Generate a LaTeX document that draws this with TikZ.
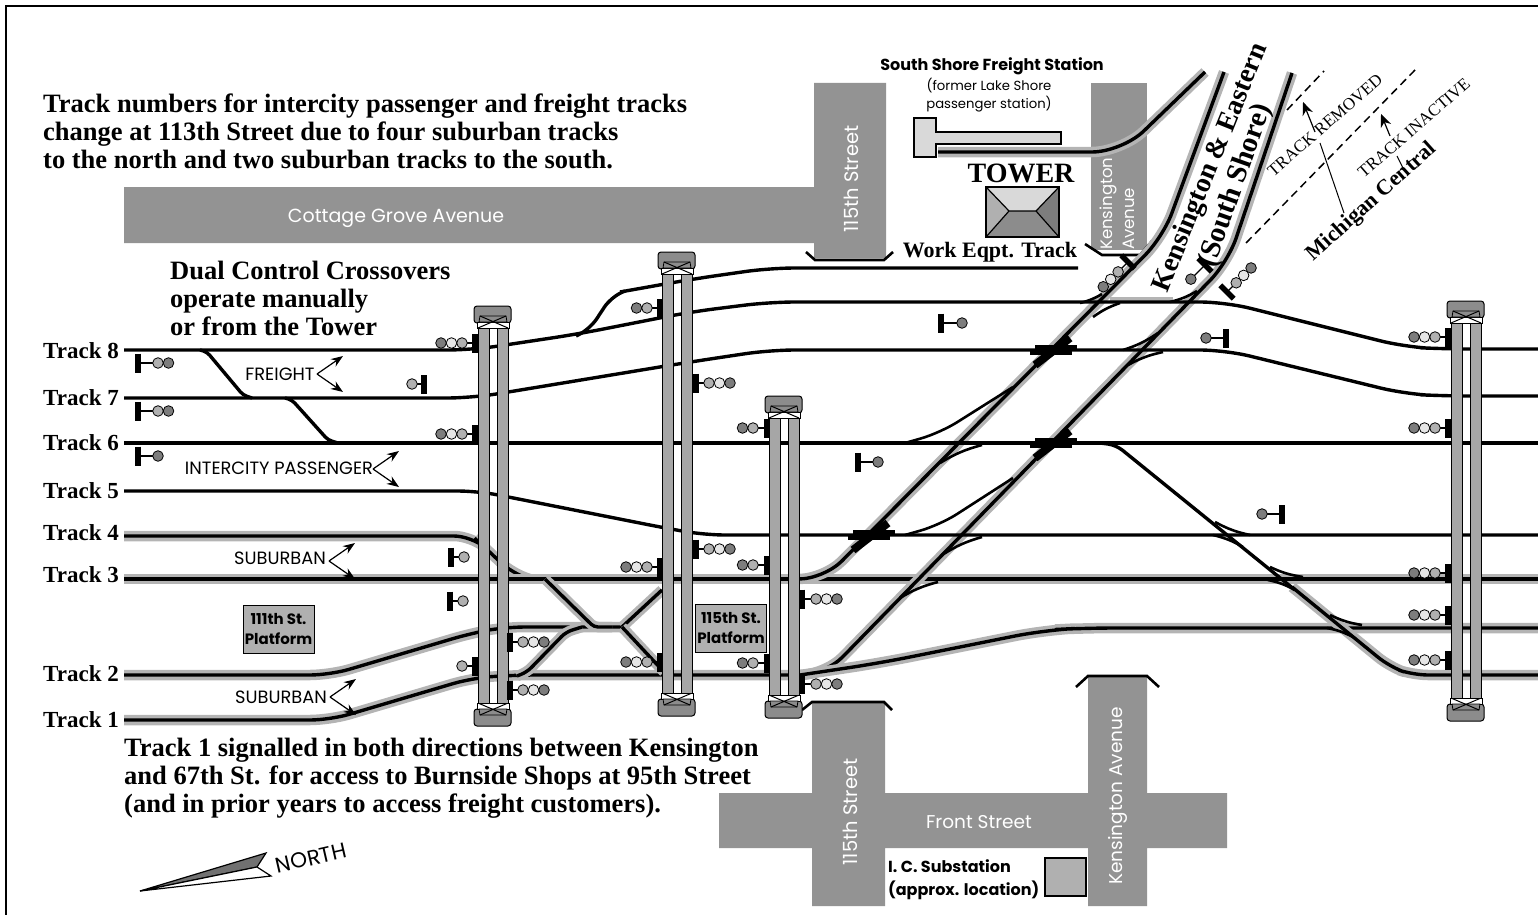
\documentclass[tikz,border=0pt]{standalone}
\usepackage{fontspec}
\setmainfont{Liberation Serif}
\setsansfont{Poppins}
\usepackage{xcolor}
\usepackage{tikz}
\usetikzlibrary{arrows.meta}
\definecolor{roadcol}{HTML}{939393}
\definecolor{halocol}{HTML}{B4B4B4}
\definecolor{stripcol}{HTML}{A6A6A6}
\definecolor{capcol}{HTML}{8C8C8C}
\definecolor{darkl}{HTML}{7D7D7D}
\definecolor{midl}{HTML}{B0B0B0}
\definecolor{whitel}{HTML}{E6E6E6}
\definecolor{paleroof}{HTML}{D9D9D9}
\newcommand{\halotrack}[2][18]{%
  \draw[halo,rounded corners=#1] #2;
  \draw[track,rounded corners=#1] #2;}
\newcommand{\signal}[5]{%
  \begin{scope}[shift={(#1,#2)},rotate=#3]
    \draw[line width=1.3] (0,0) -- (#4,0);
    \draw[line width=5.5] (0,-9.5) -- (0,9.5);
    \foreach \c [count=\i] in #5
      \draw[line width=0.8,fill=\c] ({#4+10.5*(\i-1)},0) circle (5.3);
  \end{scope}}
\newcommand{\platform}[3]{%
  \draw[line width=1,fill=capcol,rounded corners=3] (#1-4,#2-22) rectangle (#1+33,#2-5);
  \draw[line width=1,fill=capcol,rounded corners=3] (#1-4,#3+6) rectangle (#1+33,#3+23);
  \draw[line width=0.8,fill=white] (#1-1,#2-6) rectangle (#1+31,#2);
  \draw[line width=0.8,fill=white] (#1-1,#3) rectangle (#1+31,#3+6);
  \draw[line width=0.8,fill=capcol] (#1+2,#2-12) -- (#1+28,#2-12) -- (#1+29,#2-6) -- (#1+1,#2-6) -- cycle;
  \draw[line width=0.8,fill=capcol] (#1+2,#3+12) -- (#1+28,#3+12) -- (#1+29,#3+6) -- (#1+1,#3+6) -- cycle;
  \draw[line width=1] (#1+2,#2-12) -- (#1+30,#2) (#1+28,#2-12) -- (#1,#2);
  \draw[line width=1] (#1+2,#3+12) -- (#1+30,#3) (#1+28,#3+12) -- (#1,#3);
  \draw[line width=1,fill=stripcol] (#1,#2) rectangle (#1+11,#3);
  \draw[line width=1,fill=stripcol] (#1+19,#2) rectangle (#1+30,#3);}

\begin{document}
\begin{tikzpicture}[x=1pt,y=-1pt,
  halo/.style={draw=halocol,line width=10.5},
  track/.style={draw=black,line width=3.4},
  thin track/.style={draw=black,line width=2.6},
  road/.style={fill=roadcol,draw=none},
  roadend/.style={draw=black,line width=2.6},
  roadtext/.style={text=white,font=\sffamily\fontsize{18.5}{20}\selectfont,inner sep=0},
  tracktext/.style={font=\bfseries\fontsize{23}{26}\selectfont,anchor=west,inner sep=0},
  notetext/.style={font=\bfseries\fontsize{26.5}{28}\selectfont,anchor=west,align=left,inner sep=0},
  kindtext/.style={font=\sffamily\fontsize{17.8}{19}\selectfont,inner sep=0},
  sign/.style={draw=black,line width=1,fill=midl,font=\sffamily\bfseries\fontsize{15}{20}\selectfont,
    align=center,inner sep=0,minimum width=71,minimum height=48},
  kindarrow/.style={-{Stealth[length=12pt,width=9pt]},line width=1.2},
]
\useasboundingbox (0,0) rectangle (1538,915);
\draw[line width=1.6] (1538,6) -- (6,6) -- (6,915);

\fill[road] (124,187) -- (814,187) -- (814,83) -- (886,83) -- (886,258) -- (814,258) -- (814,243) -- (124,243) -- cycle;
\fill[road] (1091,83) rectangle (1147,250);
\fill[road] (812,703) -- (885,703) -- (885,793) -- (1088,793) -- (1088,676) -- (1147,676) -- (1147,793) -- (1227,793) -- (1227,848)
  -- (1147,848) -- (1147,906) -- (1088,906) -- (1088,848) -- (885,848) -- (885,906) -- (812,906) -- (812,848) -- (719,848) -- (719,793) -- (812,793) -- cycle;
\draw[roadend] (806,252) -- (815,260) -- (884,260) -- (893,252);
\draw[roadend] (1085,244) -- (1102,255) -- (1140,255) -- (1152,241);
\draw[roadend] (802,710) -- (812,702) -- (884,702) -- (892,710);
\draw[roadend] (1076,687) -- (1088,676) -- (1147,676) -- (1159,687);

\draw[line width=1.6,fill=paleroof] (914,118) -- (936,118) -- (936,132) -- (1061,132) -- (1061,144) -- (936,144) -- (936,157) -- (914,157) -- cycle;
\draw[line width=1.6,fill=darkl] (986,187) rectangle (1059,237);
\fill[paleroof] (986,187) -- (1059,187) -- (1036,211) -- (1009,211) -- cycle;
\fill[midl] (986,187) -- (1009,211) -- (986,237) -- cycle;
\fill[capcol] (986,237) -- (1009,211) -- (1036,211) -- (1059,237) -- cycle;
\draw[line width=1.6] (986,187) rectangle (1059,237);
\draw[line width=1.2] (986,187) -- (1009,211) -- (1036,211) -- (1059,187) (986,237) -- (1009,211) (1036,211) -- (1059,237);

\draw[line width=1.5,dash pattern=on 8pt off 5pt] (1246,243) -- (1415,70);
\draw[line width=1.5,dash pattern=on 8pt off 5pt] (1287,110) -- (1324,71);

\halotrack{(124,536) -- (472,536) -- (488,550) -- (512,574) -- (530,579)}
\halotrack{(124,579) -- (1538,579)}
\halotrack[20]{(124,675) -- (330,675) -- (472,633) -- (505,627) -- (622,627)}
\halotrack[20]{(124,720) -- (330,720) -- (472,678) -- (515,675) -- (800,675)}
\halotrack[4]{(545,579) -- (594,627) -- (612,627)}
\halotrack[4]{(622,627) -- (662,590)}
\halotrack[4]{(622,627) -- (664,672)}
\halotrack[6]{(517,676) -- (527,672) -- (566,632) -- (582,627)}
\halotrack[25]{(790,579) -- (824,579) -- (1163,237) -- (1224,72)}
\halotrack[25]{(790,675) -- (825,675) -- (1228,262) -- (1292,73)}
\halotrack[30]{(800,675) -- (880,663) -- (1045,630) -- (1085,628) -- (1538,628)}
\halotrack[30]{(938,152) -- (1122,152) -- (1205,72)}
\halotrack[15]{(1292,587) -- (1390,667) -- (1413,675) -- (1538,675)}
\draw[halo,line width=6] (1110,300) -- (1173,300);

\draw[track,rounded corners=25] (124,350) -- (472,350) -- (578,334) -- (690,312) -- (770,302) -- (1225,302) -- (1405,347) -- (1445,349) -- (1538,349);
\draw[track,rounded corners=12] (576,336) -- (590,329) -- (611,297) -- (625,291);
\draw[track,rounded corners=25] (620,292) -- (693,279) -- (770,268) -- (1078,268);
\draw[track,rounded corners=25] (124,398) -- (472,398) -- (690,362) -- (770,350) -- (1225,350) -- (1405,394) -- (1445,396) -- (1538,396);
\draw[track] (124,443) -- (1538,443);
\draw[track,rounded corners=20] (124,491) -- (478,491) -- (665,528) -- (705,535) -- (1538,535);
\draw[track,rounded corners=4] (200,350) -- (207,352) -- (243,395) -- (252,398);
\draw[track,rounded corners=4] (285,398) -- (292,400) -- (328,440) -- (338,443);
\draw[track,rounded corners=8] (1100,443) -- (1116,445) -- (1295,590);

\foreach \ax/\ay/\bx/\by in {1093/317/1120/303,1128/365/1163/352,940/463/982/445,942/555/982/537,900/598/938/582,
    1213/535/1243/547,1268/580/1295/590,1327/628/1353/637}
  \draw[thin track] (\ax,\ay) to[bend left=8] (\bx,\by);
\foreach \ax/\ay/\bx/\by in {1080/303/1102/294,1170/302/1197/291,1123/350/1158/333,
    1215/522/1250/535,1270/567/1303/577,1330/615/1362/625}
  \draw[thin track] (\ax,\ay) to[bend right=8] (\bx,\by);
\draw[thin track,rounded corners=20] (1013,387) -- (940,433) -- (905,443);
\draw[thin track,rounded corners=20] (1013,478) -- (940,525) -- (905,535);

\foreach \x/\y in {1052/350,1052/443,870/535}{
  \draw[line width=3.5] (\x-17,\y-3) -- (\x+25,\y-3) (\x-22,\y+3) -- (\x+20,\y+3);
  \draw[line width=8] (\x-17,\y+15) -- (\x+18,\y-12);
}

\foreach \x/\t/\b in {478/328/703,662/274/693,769/418/695,1451/323/698}{
  \platform{\x}{\t}{\b}
}

\foreach \x/\y/\a/\o/\l in {138/363/0/20/{midl,darkl},138/411/0/20/{midl,darkl},138/456/0/20/{darkl},424/384/180/12/{midl},
    475/343/180/13/{midl,whitel,darkl},475/434/180/13/{midl,whitel,darkl},451/557/0/13/{midl},450/601/0/13/{midl},
    510/642/0/13/{midl,whitel,darkl},475/666/180/13/{midl},510/690/0/13/{midl,whitel,darkl},
    660/308/180/13/{midl,darkl},696/383/0/13/{midl,whitel,darkl},660/567/180/13/{midl,whitel,darkl},660/662/180/13/{midl,whitel,darkl},
    696/549/0/13/{midl,whitel,darkl},767/428/180/14/{midl,darkl},767/565/180/14/{midl,darkl},767/663/180/14/{midl,darkl},
    802/599/0/14/{midl,whitel,darkl},802/684/0/14/{midl,whitel,darkl},941/323/0/21/{darkl},858/462/0/20/{darkl},
    1226/338/180/20/{darkl},1282/514/180/20/{darkl},1448/337/180/13/{midl,whitel,darkl},1448/428/180/13/{midl,whitel,darkl},
    1448/573/180/13/{midl,whitel,darkl},1448/615/180/13/{midl,whitel,darkl},1448/660/180/13/{midl,whitel,darkl},
    1128/262/225/14/{midl,whitel,darkl},1205/265/225/20/{darkl},1227/292/45/13/{midl,whitel,darkl}}{
  \signal{\x}{\y}{\a}{\o}{\l}
}

\node[roadtext,font=\sffamily\fontsize{19}{20}\selectfont] (cottage) at (396,218) {Cottage Grove Avenue};
\node[roadtext,rotate=90,font=\sffamily\fontsize{19.5}{20}\selectfont] (st115n) at (851,179) {115th Street};
\node[roadtext,rotate=90,font=\sffamily\fontsize{19.5}{20}\selectfont] (st115s) at (850,812) {115th Street};
\node[roadtext,rotate=90] (kens) at (1118,796) {Kensington Avenue};
\node[roadtext] (front) at (979,822) {Front Street};
\node[roadtext,rotate=90,anchor=west,font=\sffamily\fontsize{16.5}{18}\selectfont] (kensa) at (1108,250) {Kensington};
\node[roadtext,rotate=90,anchor=west,font=\sffamily\fontsize{16.5}{18}\selectfont] (kensb) at (1129,250) {Avenue};

\node[notetext] (numbers) at (43,131) {Track numbers for intercity passenger and freight tracks\\change at 113th Street due to four suburban tracks\\to the north and two suburban tracks to the south.};
\node[notetext] (dual) at (170,298) {Dual Control Crossovers\\operate manually\\or from the Tower};
\node[notetext] (signalled) at (124,778) {Track 1 signalled in both directions between Kensington\\and 67th St. for access to Burnside Shops at 95th Street\\(and in prior years to access freight customers).};

\foreach \n/\y in {8/351,7/398,6/443,5/491,4/533,3/575,2/674,1/720}{
  \node[tracktext] (track\n) at (43,\y) {Track \n};
}

\node[kindtext] (freight) at (280,374) {FREIGHT};
\node[kindtext] (passenger) at (279,468) {INTERCITY PASSENGER};
\node[kindtext] (suburbana) at (280,558) {SUBURBAN};
\node[kindtext] (suburbanb) at (281,697) {SUBURBAN};
\foreach \x/\y in {317/374,373/469,329/561,330/697}{
  \draw[kindarrow] (\x,\y) -- (\x+26,\y-18);
  \draw[kindarrow] (\x,\y) -- (\x+26,\y+18);
}

\node[sign] (plat111) at (278.5,629) {111th St.\\Platform};
\node[sign] (plat115) at (731,628) {115th St.\\Platform};

\node[font=\sffamily\bfseries\fontsize{16}{18}\selectfont,inner sep=0] (freightst) at (992,66) {South Shore Freight Station};
\node[font=\sffamily\fontsize{13.2}{18}\selectfont,align=center,inner sep=0] (former) at (989,95) {(former Lake Shore\\passenger station)};
\node[font=\bfseries\fontsize{28}{30}\selectfont,inner sep=0] (tower) at (1021,173) {TOWER};
\node[font=\bfseries\fontsize{22}{24}\selectfont,inner sep=0] (workeqpt) at (990,252) {Work Eqpt. Track};

\node[font=\bfseries\fontsize{27.8}{30}\selectfont,rotate=68,inner sep=0] (kande) at (1211,168) {Kensington \& Eastern};
\node[font=\bfseries\fontsize{29}{30}\selectfont,rotate=70.5,inner sep=0] (southshore) at (1236,186) {(South Shore)};
\node[font=\bfseries\fontsize{22}{24}\selectfont,rotate=42,inner sep=0] (michigan) at (1372,202) {Michigan Central};
\node[font=\fontsize{17}{18}\selectfont,rotate=41,inner sep=0] (removed) at (1325,125) {TRACK REMOVED};
\node[font=\fontsize{17}{18}\selectfont,rotate=41,inner sep=0] (inactive) at (1414,128) {TRACK INACTIVE};
\coordinate (tipremoved) at (1303,102);
\coordinate (tipinactive) at (1381,114);
\draw[kindarrow,-{Stealth[length=13pt,width=11pt]}] (1315,132) -- (tipremoved);
\draw[line width=1] (1320,143) -- (1344,213);
\draw[kindarrow,-{Stealth[length=13pt,width=11pt]}] (1390,136) -- (tipinactive);
\draw[line width=1] (1397,156) -- (1403,168);

\node[font=\sffamily\bfseries\fontsize{16}{23}\selectfont,align=left,inner sep=0,anchor=west] (substn) at (888,880) {I. C. Substation\\(approx. location)};
\draw[line width=1.6,fill=midl] (1045,858) rectangle (1086,896);

\draw[line width=1.2,fill=darkl!90!black] (140,891) -- (266,853) -- (257,867) -- cycle;
\draw[line width=1.2,fill=white] (140,891) -- (257,867) -- (271,876) -- cycle;
\node[font=\sffamily\fontsize{21.5}{22}\selectfont,rotate=13,inner sep=0] (north) at (311,858) {NORTH};
\end{tikzpicture}
\end{document}
